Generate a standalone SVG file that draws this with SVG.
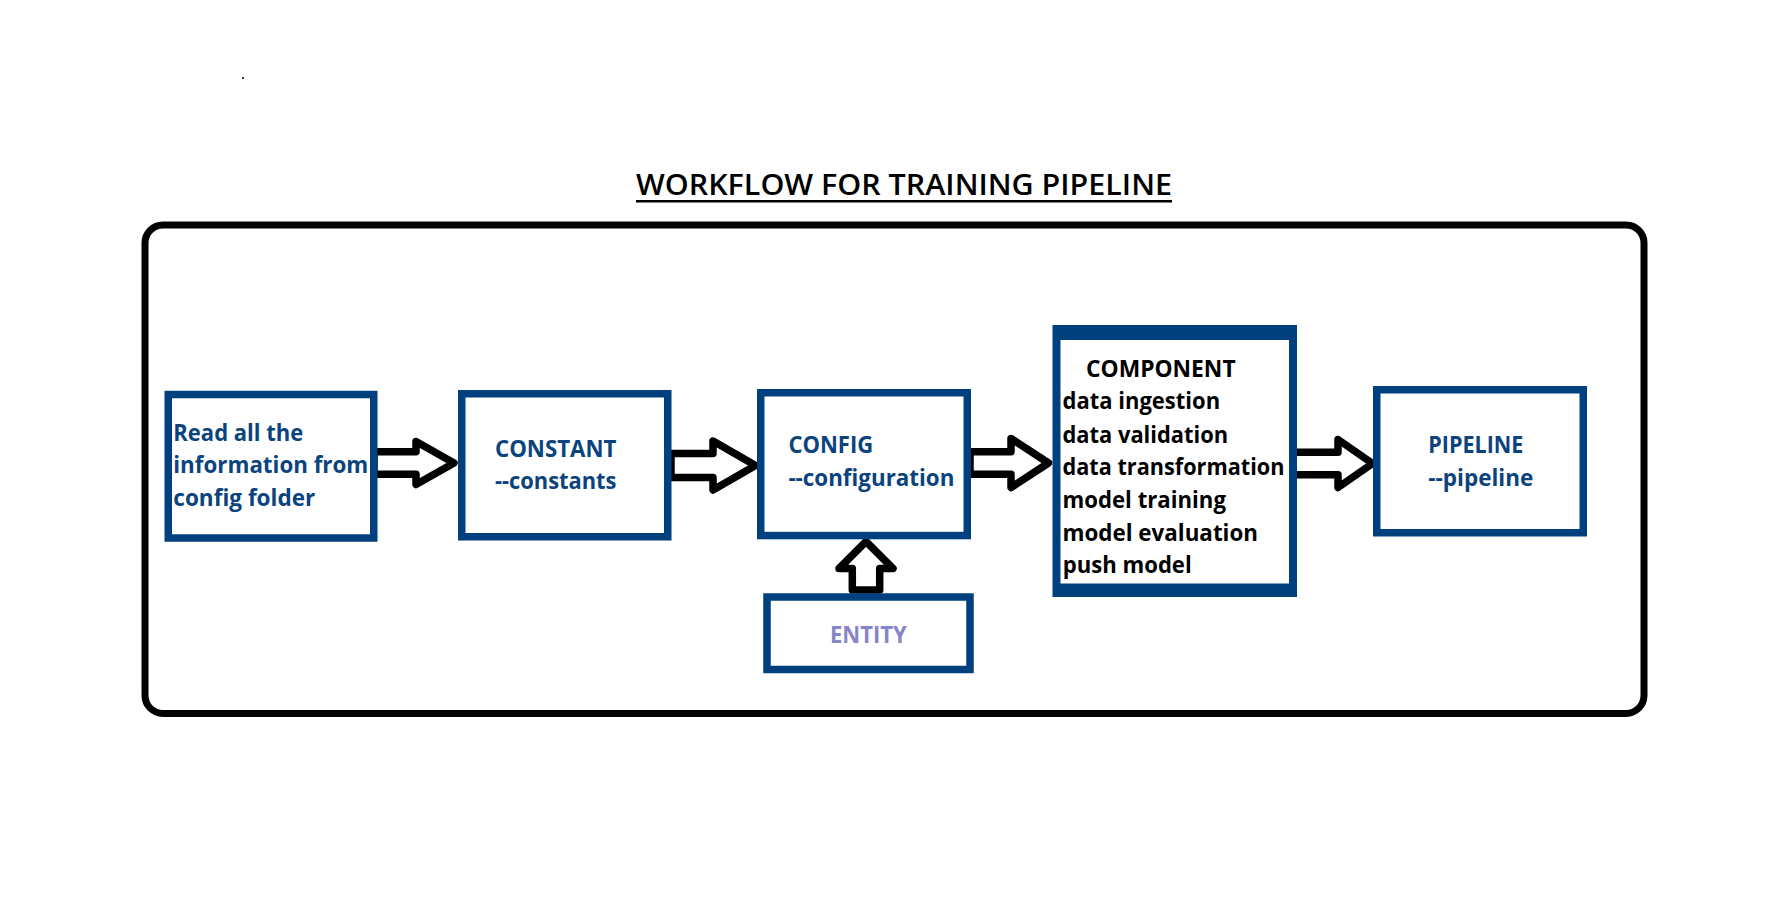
<svg xmlns="http://www.w3.org/2000/svg" width="1790" height="905" viewBox="0 0 1790 905">
<style>
.box{fill:#fff;stroke:#00407f;stroke-width:7.5}
.arr{fill:#fff;stroke:#000;stroke-width:7.5;stroke-linejoin:round}
.t{font-family:"Open Sans","Liberation Sans",sans-serif;font-weight:bold;font-size:23px;fill:#0a437e}
.k{font-family:"Open Sans","Liberation Sans",sans-serif;font-weight:bold;font-size:23px;fill:#000}
.title{font-family:"Open Sans","Liberation Sans",sans-serif;font-weight:600;font-size:28px;fill:#000}
</style>
<rect width="1790" height="905" fill="#fff"/>
<rect x="242" y="77" width="2" height="2" fill="#333"/>
<g id="title">
<text class="title" x="636" y="195" textLength="536" lengthAdjust="spacingAndGlyphs">WORKFLOW FOR TRAINING PIPELINE</text>
<line x1="636" y1="201.3" x2="1172" y2="201.3" stroke="#000" stroke-width="2.5"/>
</g>
<g id="frame">
<rect x="145" y="225" width="1499" height="488.4" rx="18" ry="18" fill="none" stroke="#000" stroke-width="7"/>
</g>
<g id="connectors">
<polygon class="arr" points="374,451.8 416,451.8 416,441.5 454,463 416,484.5 416,474.2 374,474.2"/>
<polygon class="arr" points="671,453.5 713,453.5 713,441 755.5,465.5 713,490 713,477.5 671,477.5"/>
<polygon class="arr" points="970,451.8 1011,451.8 1011,438.5 1048.5,463 1011,487.5 1011,474.2 970,474.2"/>
<polygon class="arr" points="1293,452.3 1338,452.3 1338,439.5 1372.5,463.5 1338,487.5 1338,474.7 1293,474.7"/>
<polygon class="arr" points="852.3,590 852.3,568.5 839,568.5 866,541.5 893,568.5 879.7,568.5 879.7,590"/>
</g>
<g id="read">
<rect class="box" x="168.25" y="394.5" width="205.5" height="143.5"/>
<text class="t" x="173.3" y="440.7" textLength="130" lengthAdjust="spacingAndGlyphs">Read all the</text>
<text class="t" x="173.3" y="473.3" textLength="195" lengthAdjust="spacingAndGlyphs">information from</text>
<text class="t" x="173.3" y="505.5" textLength="142" lengthAdjust="spacingAndGlyphs">config folder</text>
</g>
<g id="constant">
<rect class="box" x="461.75" y="393.75" width="206" height="143"/>
<text class="t" x="495" y="456.7" textLength="121.4" lengthAdjust="spacingAndGlyphs">CONSTANT</text>
<text class="t" x="495" y="489.3" textLength="121.4" lengthAdjust="spacingAndGlyphs">--constants</text>
</g>
<g id="config">
<rect class="box" x="760.75" y="392.75" width="206.5" height="142.8"/>
<text class="t" x="788.4" y="453.3" textLength="84.8" lengthAdjust="spacingAndGlyphs">CONFIG</text>
<text class="t" x="788.4" y="486" textLength="166" lengthAdjust="spacingAndGlyphs">--configuration</text>
</g>
<g id="entity">
<rect class="box" x="767" y="597" width="203" height="72.5"/>
<text class="t" x="830" y="643.3" textLength="76.7" lengthAdjust="spacingAndGlyphs" style="fill:#8585c8">ENTITY</text>
</g>
<g id="component">
<rect x="1052.5" y="325" width="244.5" height="272" fill="#00407f"/>
<rect x="1060.5" y="340" width="228.5" height="243.5" fill="#fff"/>
<text class="k" x="1086" y="376.7" textLength="149.6" lengthAdjust="spacingAndGlyphs">COMPONENT</text>
<text class="k" x="1062.5" y="409.3" textLength="157.6" lengthAdjust="spacingAndGlyphs">data ingestion</text>
<text class="k" x="1062.5" y="442.7" textLength="165.6" lengthAdjust="spacingAndGlyphs">data validation</text>
<text class="k" x="1062.5" y="475" textLength="222" lengthAdjust="spacingAndGlyphs">data transformation</text>
<text class="k" x="1062.5" y="508.3" textLength="163.4" lengthAdjust="spacingAndGlyphs">model training</text>
<text class="k" x="1062.5" y="540.7" textLength="195.5" lengthAdjust="spacingAndGlyphs">model evaluation</text>
<text class="k" x="1062.7" y="573.3" textLength="129" lengthAdjust="spacingAndGlyphs">push model</text>
</g>
<g id="pipeline">
<rect class="box" x="1376.75" y="389.75" width="206.5" height="143"/>
<text class="t" x="1428.3" y="453.3" textLength="95" lengthAdjust="spacingAndGlyphs">PIPELINE</text>
<text class="t" x="1428.3" y="486" textLength="105" lengthAdjust="spacingAndGlyphs">--pipeline</text>
</g>
</svg>
